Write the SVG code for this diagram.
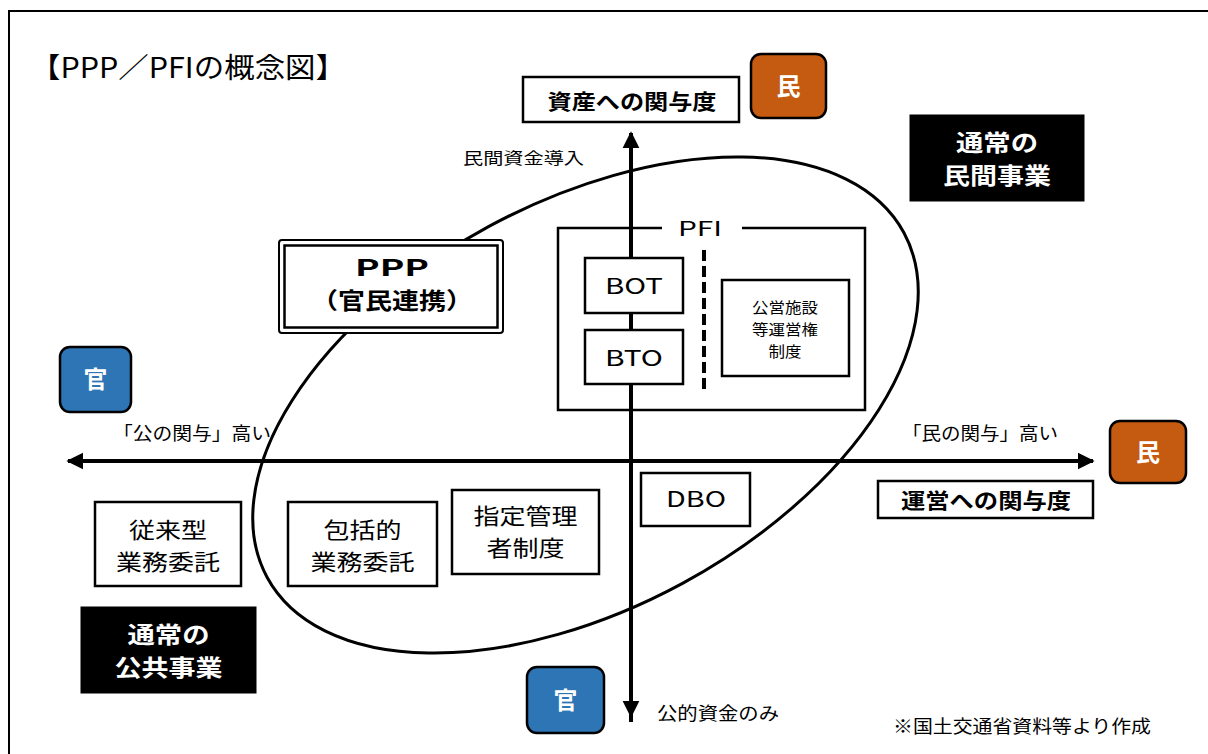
<svg xmlns="http://www.w3.org/2000/svg" width="1208" height="754" viewBox="0 0 1208 754">
<defs>
<style>
text{font-family:"Noto Sans CJK JP","Noto Sans CJK SC",sans-serif;fill:#000}
.box{fill:#fff;stroke:#000;stroke-width:2.5}
.b{font-weight:bold}
.w{fill:#fff}
.mid{text-anchor:middle}
.blk{fill:#000;stroke:#000;stroke-width:1}
.axis{stroke:#000;stroke-width:4;fill:none}
</style>
<marker id="ah" viewBox="0 0 10 10" refX="9" refY="5" markerWidth="4.2" markerHeight="6.2" markerUnits="strokeWidth" orient="auto">
<path d="M0,0 L10,5 L0,10 Z" fill="#000"/>
</marker>
</defs>
<rect x="0" y="0" width="1208" height="754" fill="#fff"/>
<rect x="9" y="11" width="1215" height="760" fill="none" stroke="#000" stroke-width="2"/>
<text x="30" y="78" font-size="28" textLength="316" lengthAdjust="spacingAndGlyphs">【PPP／PFIの概念図】</text>

<g id="ellipse-ppp">
<ellipse cx="585.5" cy="405" rx="362" ry="203" transform="rotate(-28.4 585.5 405)" fill="none" stroke="#000" stroke-width="3"/>
</g>

<g id="pfi">
<rect x="558" y="228" width="307" height="182" fill="none" stroke="#000" stroke-width="2.5"/>
<rect x="662" y="220" width="80" height="16" fill="#fff"/>
<text x="700" y="236" font-size="20" class="mid" textLength="44" lengthAdjust="spacingAndGlyphs">PFI</text>
<line x1="704" y1="250" x2="704" y2="392" stroke="#000" stroke-width="4" stroke-dasharray="11,5"/>
</g>

<g id="connectors">
<line class="axis" x1="631" y1="722" x2="631" y2="133" marker-end="url(#ah)"/>
<line class="axis" x1="631" y1="140" x2="631" y2="716" marker-end="url(#ah)"/>
<line class="axis" x1="1070" y1="461" x2="68" y2="461" marker-end="url(#ah)"/>
<line class="axis" x1="90" y1="461" x2="1093" y2="461" marker-end="url(#ah)"/>
</g>

<g id="bot">
<rect class="box" x="585" y="258" width="98" height="55"/>
<text x="634" y="294" font-size="22" class="mid" textLength="58" lengthAdjust="spacingAndGlyphs">BOT</text>
</g>
<g id="bto">
<rect class="box" x="585" y="330" width="98" height="54"/>
<text x="634" y="366" font-size="22" class="mid" textLength="58" lengthAdjust="spacingAndGlyphs">BTO</text>
</g>
<g id="concession">
<rect class="box" x="722" y="280" width="127" height="96"/>
<text x="785" y="313" font-size="15" class="mid" textLength="66" lengthAdjust="spacingAndGlyphs">公営施設</text>
<text x="785" y="335" font-size="15" class="mid" textLength="66" lengthAdjust="spacingAndGlyphs">等運営権</text>
<text x="785" y="357" font-size="15" class="mid" textLength="33" lengthAdjust="spacingAndGlyphs">制度</text>
</g>

<g id="ppp">
<rect x="279" y="240" width="224" height="93" rx="3" fill="#fff" stroke="#000" stroke-width="2"/>
<rect x="284.5" y="245.5" width="213" height="82" fill="none" stroke="#000" stroke-width="2.5"/>
<text x="392" y="276" font-size="23" class="mid b" textLength="74" lengthAdjust="spacingAndGlyphs">PPP</text>
<text x="392" y="309" font-size="23" class="mid b" textLength="162" lengthAdjust="spacingAndGlyphs">（官民連携）</text>
</g>

<g id="asset-label">
<rect class="box" x="523" y="77" width="216" height="45"/>
<text x="632" y="109" font-size="21" class="mid b" textLength="169" lengthAdjust="spacingAndGlyphs">資産への関与度</text>
</g>
<g id="min-top">
<rect x="751" y="54" width="75" height="64" rx="10" fill="#C55A11" stroke="#000" stroke-width="2.5"/>
<text x="788.5" y="95" font-size="24" class="mid b w">民</text>
</g>
<text x="463" y="164" font-size="16" textLength="121" lengthAdjust="spacingAndGlyphs">民間資金導入</text>

<g id="private-business">
<rect class="blk" x="910" y="115" width="174" height="86"/>
<text x="997" y="151" font-size="23" class="mid b w" textLength="82" lengthAdjust="spacingAndGlyphs">通常の</text>
<text x="997" y="184" font-size="23" class="mid b w" textLength="108" lengthAdjust="spacingAndGlyphs">民間事業</text>
</g>

<g id="kan-left">
<rect x="60" y="347" width="71" height="65" rx="10" fill="#2E75B6" stroke="#000" stroke-width="2.5"/>
<text x="95.5" y="388" font-size="24" class="mid b w">官</text>
</g>
<text x="113" y="440" font-size="18" textLength="158" lengthAdjust="spacingAndGlyphs">「公の関与」高い</text>
<text x="902" y="440" font-size="18" textLength="156" lengthAdjust="spacingAndGlyphs">「民の関与」高い</text>

<g id="min-right">
<rect x="1110" y="421" width="76" height="62" rx="10" fill="#C55A11" stroke="#000" stroke-width="2.5"/>
<text x="1148" y="461" font-size="24" class="mid b w">民</text>
</g>
<g id="operation-label">
<rect class="box" x="878" y="481" width="215" height="37"/>
<text x="986" y="508" font-size="21" class="mid b" textLength="170" lengthAdjust="spacingAndGlyphs">運営への関与度</text>
</g>

<g id="dbo">
<rect class="box" x="641" y="473" width="109" height="53"/>
<text x="696" y="507" font-size="22" class="mid" textLength="60" lengthAdjust="spacingAndGlyphs">DBO</text>
</g>
<g id="traditional">
<rect class="box" x="95" y="502" width="146" height="84"/>
<text x="168" y="538" font-size="22" class="mid" textLength="78" lengthAdjust="spacingAndGlyphs">従来型</text>
<text x="168" y="570" font-size="22" class="mid" textLength="104" lengthAdjust="spacingAndGlyphs">業務委託</text>
</g>
<g id="comprehensive">
<rect class="box" x="288" y="502" width="149" height="84"/>
<text x="362.5" y="538" font-size="22" class="mid" textLength="78" lengthAdjust="spacingAndGlyphs">包括的</text>
<text x="362.5" y="570" font-size="22" class="mid" textLength="104" lengthAdjust="spacingAndGlyphs">業務委託</text>
</g>
<g id="designated">
<rect class="box" x="452" y="490" width="147" height="84"/>
<text x="525.5" y="524" font-size="22" class="mid" textLength="104" lengthAdjust="spacingAndGlyphs">指定管理</text>
<text x="525.5" y="556" font-size="22" class="mid" textLength="78" lengthAdjust="spacingAndGlyphs">者制度</text>
</g>

<g id="public-business">
<rect class="blk" x="81" y="607" width="175" height="86"/>
<text x="168.5" y="643" font-size="23" class="mid b w" textLength="82" lengthAdjust="spacingAndGlyphs">通常の</text>
<text x="168.5" y="676" font-size="23" class="mid b w" textLength="108" lengthAdjust="spacingAndGlyphs">公共事業</text>
</g>
<g id="kan-bottom">
<rect x="527" y="667" width="77" height="66" rx="10" fill="#2E75B6" stroke="#000" stroke-width="2.5"/>
<text x="565.5" y="709" font-size="24" class="mid b w">官</text>
</g>
<text x="657" y="720" font-size="18" textLength="122" lengthAdjust="spacingAndGlyphs">公的資金のみ</text>
<text x="893" y="733" font-size="18" textLength="258" lengthAdjust="spacingAndGlyphs">※国土交通省資料等より作成</text>
</svg>
